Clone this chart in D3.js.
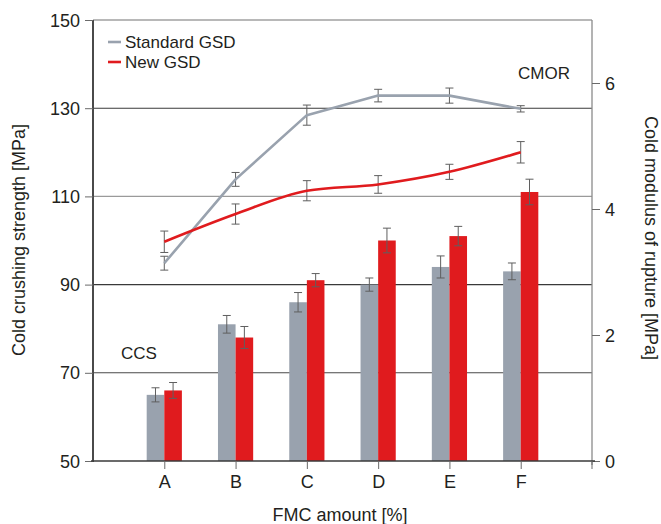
<!DOCTYPE html>
<html>
<head>
<meta charset="utf-8">
<script src="https://cdn.jsdelivr.net/npm/d3@7"></script>
<style>
  body { margin: 0; background: #fff; }
  svg { display: block; }
  text { font-family: "Liberation Sans Narrow", "Arial Narrow", "Liberation Sans", Arial, sans-serif; fill: #231f20; }
</style>
</head>
<body>
<svg id="chart" width="661" height="524"></svg>
<script>
// FMC amount categories
const categories = ["A", "B", "C", "D", "E", "F"];

// Cold crushing strength (bars, left axis, MPa)
const ccsStandard = [65, 81, 86, 90, 94, 93];
const ccsStandardErr = [1.6, 2.0, 2.2, 1.5, 2.5, 1.9];
const ccsNew = [66, 78, 91, 100, 101, 111];
const ccsNewErr = [1.8, 2.5, 1.5, 2.8, 2.2, 2.9];

// Cold modulus of rupture (lines, right axis, MPa)
const cmorStandard = [3.14, 4.47, 5.49, 5.80, 5.80, 5.59];
const cmorStandardErr = [0.11, 0.11, 0.16, 0.10, 0.12, 0.05];
const cmorNew = [3.48, 3.92, 4.29, 4.39, 4.59, 4.90];
const cmorNewErr = [0.17, 0.16, 0.16, 0.14, 0.12, 0.17];

const leftTicks = [50, 70, 90, 110, 130, 150];
const rightTicks = [0, 2, 4, 6];

const colStd = "#99a2ae";
const colNew = "#e01b1e";
const colErr = "#5f5f5f";

const svg = d3.select("#chart");
const W = 661, H = 524;
const m = { left: 93, right: 69, top: 20, bottom: 63 };
const x0 = m.left, x1 = W - m.right, y0 = H - m.bottom, y1 = m.top;

// one empty slot on each side of the categories
const x = d3.scaleLinear().domain([-1, categories.length]).range([x0, x1]);
const yL = d3.scaleLinear().domain([50, 150]).range([y0, y1]);
const yR = d3.scaleLinear().domain([0, 7]).range([y0, y1]);
const barW = 17.6;

// grid lines
const gridColor = { 70: "#4a4a4a", 90: "#3a3a3a", 110: "#9a9a9a", 130: "#3a3a3a" };
svg.append("g").selectAll("line").data([70, 90, 110, 130]).join("line")
  .attr("x1", x0).attr("x2", x1)
  .attr("y1", d => yL(d)).attr("y2", d => yL(d))
  .attr("stroke", d => gridColor[d]).attr("stroke-width", 1.1);

// top frame line
svg.append("line").attr("x1", x0).attr("x2", x1).attr("y1", y1).attr("y2", y1)
  .attr("stroke", "#a0a0a0").attr("stroke-width", 1.6);

// bars
const bars = svg.append("g");
bars.selectAll("rect.std").data(ccsStandard).join("rect").attr("class", "std")
  .attr("x", (d, i) => x(i) - barW).attr("width", barW)
  .attr("y", d => yL(d)).attr("height", d => y0 - yL(d))
  .attr("fill", colStd);
bars.selectAll("rect.new").data(ccsNew).join("rect").attr("class", "new")
  .attr("x", (d, i) => x(i)).attr("width", barW)
  .attr("y", d => yL(d)).attr("height", d => y0 - yL(d))
  .attr("fill", colNew);

// error bar helper
function errorBars(g, vals, errs, xs, yScale) {
  const cap = 4;
  vals.forEach((v, i) => {
    const cx = xs(i), top = yScale(v + errs[i]), bot = yScale(v - errs[i]);
    const p = `M${cx},${top}V${bot}M${cx - cap},${top}H${cx + cap}M${cx - cap},${bot}H${cx + cap}`;
    g.append("path").attr("d", p).attr("stroke", colErr).attr("stroke-width", 1).attr("fill", "none");
  });
}
const eg = svg.append("g");
errorBars(eg, ccsStandard, ccsStandardErr, i => x(i) - barW / 2, yL);
errorBars(eg, ccsNew, ccsNewErr, i => x(i) + barW / 2, yL);

// CMOR lines
const lineStd = d3.line().x((d, i) => x(i)).y(d => yR(d));
const lineNew = d3.line().x((d, i) => x(i)).y(d => yR(d)).curve(d3.curveMonotoneX);
svg.append("path").datum(cmorStandard).attr("d", lineStd)
  .attr("fill", "none").attr("stroke", colStd).attr("stroke-width", 2.6)
  .attr("stroke-linejoin", "round");
svg.append("path").datum(cmorNew).attr("d", lineNew)
  .attr("fill", "none").attr("stroke", colNew).attr("stroke-width", 2.6);
errorBars(eg.append("g"), cmorStandard, cmorStandardErr, i => x(i), yR);
errorBars(eg.append("g"), cmorNew, cmorNewErr, i => x(i), yR);

// left axis
const gl = svg.append("g").attr("transform", `translate(${x0},0)`)
  .call(d3.axisLeft(yL).tickValues(leftTicks).tickSize(8).tickPadding(5));
gl.select(".domain").attr("stroke", "#4a4a4a").attr("stroke-width", 2)
  .attr("d", `M0,${y1}V${y0 + 1}`);
gl.selectAll(".tick line").attr("stroke", "#6a6a6a");
gl.selectAll("text").style("font-size", "18px").attr("fill", "#231f20").attr("dy", "0.34em");

// right axis
const gr = svg.append("g").attr("transform", `translate(${x1},0)`)
  .call(d3.axisRight(yR).tickValues(rightTicks).tickFormat(d3.format("d")).tickSize(8).tickPadding(5));
gr.select(".domain").attr("stroke", "#8a8a8a").attr("stroke-width", 1.3)
  .attr("d", `M0,${y1}V${y0 + 4}`);
gr.selectAll(".tick line").attr("stroke", "#6a6a6a");
gr.selectAll("text").style("font-size", "18px").attr("fill", "#231f20").attr("dy", "0.34em");

// bottom axis
const gb = svg.append("g").attr("transform", `translate(0,${y0})`)
  .call(d3.axisBottom(x).tickValues(d3.range(categories.length)).tickFormat(i => categories[i])
    .tickSize(8).tickPadding(6));
gb.select(".domain").attr("stroke", "#3a3a3a").attr("stroke-width", 1.6)
  .attr("d", `M${x0 - 2},0H${x1 + 3}`);
gb.selectAll(".tick line").attr("stroke", "#6a6a6a");
gb.selectAll("text").style("font-size", "18px").attr("fill", "#231f20");
gb.append("line").attr("x1", x1).attr("x2", x1).attr("y1", 0).attr("y2", 8).attr("stroke", "#6a6a6a");

// axis titles
svg.append("text").attr("transform", `translate(25,240) rotate(-90)`)
  .attr("text-anchor", "middle").style("font-size", "18px").text("Cold crushing strength [MPa]");
svg.append("text").attr("transform", `translate(645,238) rotate(90)`)
  .attr("text-anchor", "middle").style("font-size", "18px").text("Cold modulus of rupture [MPa]");
svg.append("text").attr("x", 340).attr("y", 521)
  .attr("text-anchor", "middle").style("font-size", "18px").text("FMC amount [%]");

// series labels
svg.append("text").attr("x", 121).attr("y", 359).style("font-size", "17px").text("CCS");
svg.append("text").attr("x", 518).attr("y", 79).style("font-size", "17px").text("CMOR");

// legend
const legend = [["Standard GSD", colStd], ["New GSD", colNew]];
const lg = svg.append("g");
legend.forEach(([name, c], i) => {
  const yy = 42 + i * 20;
  lg.append("line").attr("x1", 108).attr("x2", 121).attr("y1", yy).attr("y2", yy)
    .attr("stroke", c).attr("stroke-width", 2.6);
  lg.append("text").attr("x", 125).attr("y", yy + 6).style("font-size", "17px").text(name);
});
</script>
</body>
</html>
